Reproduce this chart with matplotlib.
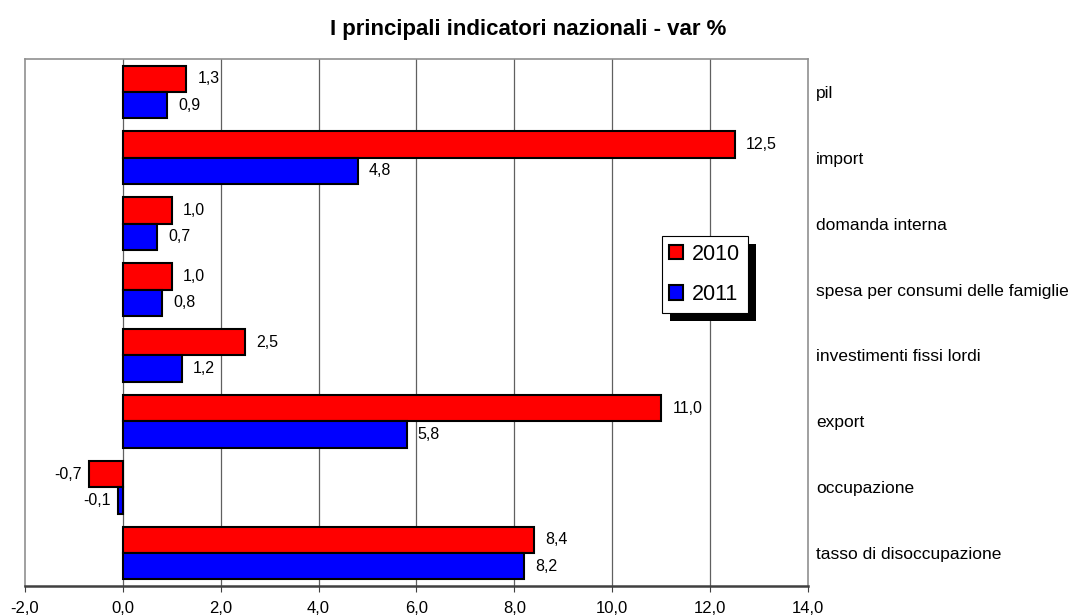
import matplotlib.pyplot as plt
from matplotlib.patches import Rectangle
import numpy as np

plt.rcParams['font.family'] = ['Liberation Sans', 'DejaVu Sans']

categories = ['pil', 'import', 'domanda interna', 'spesa per consumi delle famiglie',
              'investimenti fissi lordi', 'export', 'occupazione', 'tasso di disoccupazione']
v2010 = [1.3, 12.5, 1.0, 1.0, 2.5, 11.0, -0.7, 8.4]
v2011 = [0.9, 4.8, 0.7, 0.8, 1.2, 5.8, -0.1, 8.2]
xticks = [-2, 0, 2, 4, 6, 8, 10, 12, 14]


def fmt(v):
    return f"{v:.1f}".replace('.', ',')


fig = plt.figure(figsize=(10.77, 6.16), dpi=100)
ax = fig.add_axes([0.0232, 0.0487, 0.7270, 0.8555])

n = len(categories)
y = np.arange(n)
h = 0.4
b1 = ax.barh(y - h / 2, v2010, height=h, color='#ff0000', edgecolor='black', linewidth=1.5, label='2010', zorder=3)
b2 = ax.barh(y + h / 2, v2011, height=h, color='#0000ff', edgecolor='black', linewidth=1.5, label='2011', zorder=3)

for bars, vals in ((b1, v2010), (b2, v2011)):
    for bar, v in zip(bars, vals):
        yc = bar.get_y() + bar.get_height() / 2
        if v >= 0:
            ax.annotate(fmt(v), (v, yc), xytext=(8, 0), textcoords='offset points',
                        ha='left', va='center', fontsize=11.5)
        else:
            ax.annotate(fmt(v), (v, yc), xytext=(-5, 0), textcoords='offset points',
                        ha='right', va='center', fontsize=11.5)

ax.set_xlim(-2, 14)
ax.set_ylim(n - 0.5, -0.5)
ax.set_xticks(xticks)
ax.set_xticklabels([fmt(t) for t in xticks], fontsize=12)
ax.tick_params(axis='x', direction='out', length=4, color='#404040', pad=7)
for t in xticks[1:-1]:
    ax.axvline(t, color='#606060', linewidth=0.9, zorder=1)

ax.yaxis.tick_right()
ax.set_yticks(y)
ax.set_yticklabels(categories, fontsize=12.5)
ax.tick_params(axis='y', length=0, pad=6)

for s in ('left', 'right', 'top'):
    ax.spines[s].set_color('#909090')
    ax.spines[s].set_linewidth(1.2)
ax.spines['bottom'].set_color('#404040')
ax.spines['bottom'].set_linewidth(1.8)

fig.text(528 / 1077, 1 - 29 / 616, 'I principali indicatori nazionali - var %',
         fontsize=16, fontweight='bold', ha='center', va='center')

leg = ax.legend(loc='upper left', bbox_to_anchor=(0.8135, 0.664), borderaxespad=0,
                fontsize=15.5, fancybox=False, framealpha=1, edgecolor='black',
                handlelength=0.65, handleheight=0.65, handletextpad=0.4, labelspacing=0.9,
                borderpad=0.35)
leg.get_frame().set_linewidth(0.8)
leg.set_zorder(6)

# heavy drop shadow behind the legend box
fig.canvas.draw()
bb = leg.get_window_extent().transformed(fig.transFigure.inverted())
dx, dy = 8 / 1077, 8 / 616
ax.add_patch(Rectangle((bb.x0 + dx, bb.y0 - dy), bb.width, bb.height,
                       transform=fig.transFigure, facecolor='black',
                       edgecolor='none', zorder=5, clip_on=False))

fig.savefig('out.png', dpi=100)
